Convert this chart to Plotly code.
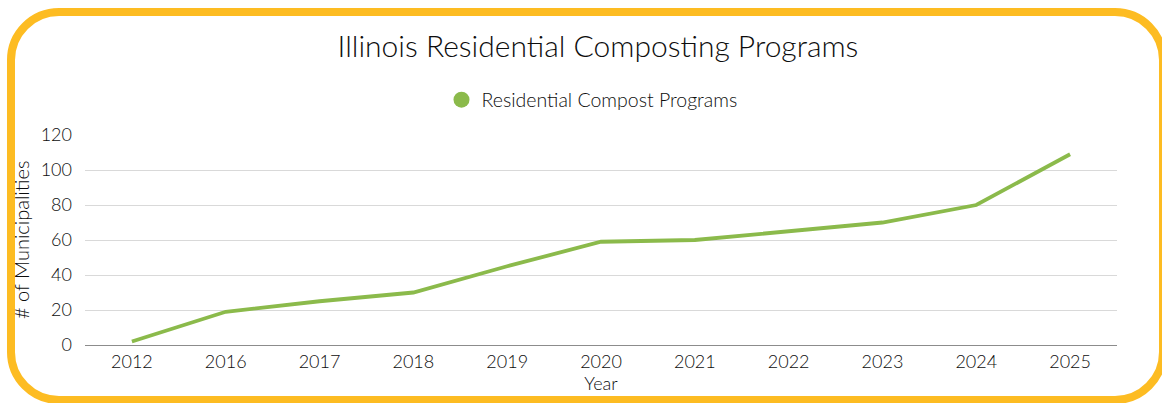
import plotly.graph_objects as go

years = ["2012", "2016", "2017", "2018", "2019", "2020", "2021", "2022", "2023", "2024", "2025"]
programs = [2, 19, 25, 30, 45, 59, 60, 65, 70, 80, 109]
series_name = "Residential Compost Programs"
y_ticks = [0, 20, 40, 60, 80, 100, 120]

W, H = 1162, 403
ML, MR, MT, MB = 85, 45, 135, 58
PW, PH = W - ML - MR, H - MT - MB

def px(x):
    return (x - ML) / PW

def py(y):
    return (H - MB - y) / PH

# rounded border (pixel layout converted to paper coords)
x0, y0, x1, y1, r = 11, 12, 1163, 400, 48
k = 0.5523 * r
def P(x, y):
    return f"{px(x):.5f},{py(y):.5f}"
path = (
    f"M {P(x0 + r, y0)} L {P(x1 - r, y0)} "
    f"C {P(x1 - r + k, y0)} {P(x1, y0 + r - k)} {P(x1, y0 + r)} "
    f"L {P(x1, y1 - r)} "
    f"C {P(x1, y1 - r + k)} {P(x1 - r + k, y1)} {P(x1 - r, y1)} "
    f"L {P(x0 + r, y1)} "
    f"C {P(x0 + r - k, y1)} {P(x0, y1 - r + k)} {P(x0, y1 - r)} "
    f"L {P(x0, y0 + r)} "
    f"C {P(x0, y0 + r - k)} {P(x0 + r - k, y0)} {P(x0 + r, y0)} Z"
)

FONT = "Lato"
GREEN = "#8BBA4B"
TXT = "#0d0d0d"

fig = go.Figure()
fig.add_trace(go.Scatter(
    x=years, y=programs, mode="lines", name=series_name,
    line=dict(color=GREEN, width=3.8), showlegend=False,
))
fig.add_trace(go.Scatter(
    x=[None], y=[None], mode="markers", name=series_name,
    marker=dict(color=GREEN, size=17, symbol="circle"), showlegend=True,
))

fig.update_layout(
    width=W, height=H,
    margin=dict(l=ML, r=MR, t=MT, b=MB),
    paper_bgcolor="white", plot_bgcolor="white",
    font=dict(family=FONT, color=TXT, size=18, weight=300),
    title=dict(text="Illinois Residential Composting Programs", x=598 / W, xanchor="center",
               y=1 - 46 / H, yanchor="middle", yref="container",
               font=dict(size=30, color=TXT, family=FONT, weight=300)),
    legend=dict(orientation="h", x=px(592), xanchor="center", y=py(100), yanchor="middle",
                font=dict(size=19.5, color=TXT, weight=300), bgcolor="rgba(0,0,0,0)",
                itemwidth=30),
    shapes=[dict(type="path", path=path, xref="paper", yref="paper",
                 line=dict(color="#FDBC22", width=8), fillcolor="rgba(0,0,0,0)", layer="below")],
    annotations=[dict(text="# of Municipalities", textangle=-90, showarrow=False,
                      xref="paper", yref="paper", x=px(21), y=py(240),
                      xanchor="center", yanchor="middle",
                      font=dict(size=20, color=TXT, weight=300))],
    xaxis=dict(type="category", range=[-0.5, 10.5], showgrid=False,
               showline=True, linecolor="#8c8c8c", linewidth=1.2,
               ticks="", tickfont=dict(size=18),
               title=dict(text="Year", font=dict(size=18), standoff=2)),
    yaxis=dict(range=[0, 120], tickvals=y_ticks, showgrid=True, gridcolor="#d9d9d9", gridwidth=1,
               zeroline=False, showline=False, ticks="", tickfont=dict(size=18),
               ticklabelstandoff=12),
)

fig.write_html("out.html", config={"displayModeBar": False},
               post_script="document.body.style.margin='0';")
